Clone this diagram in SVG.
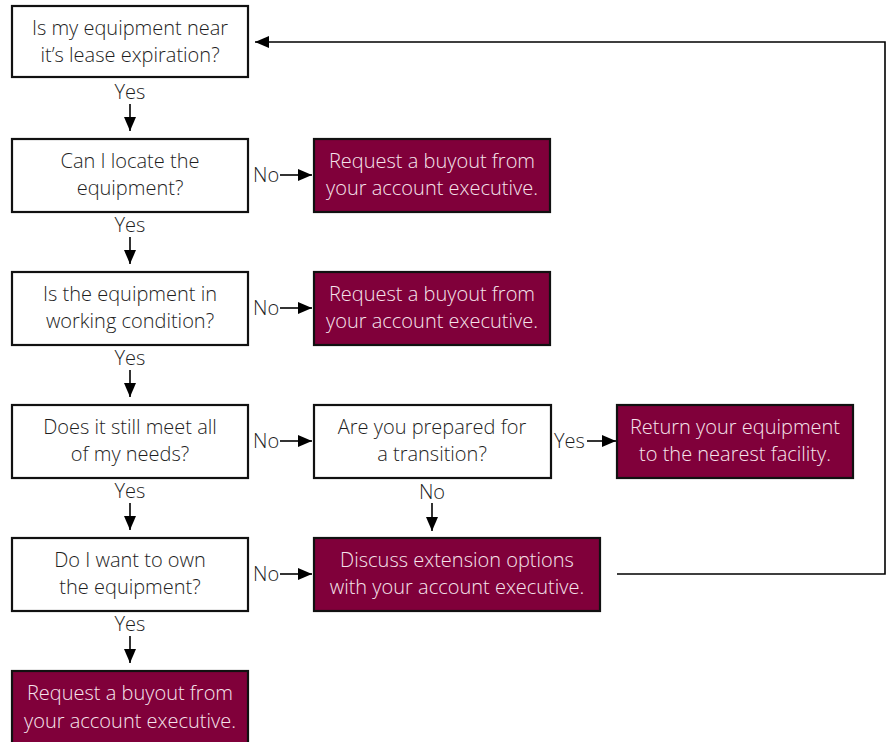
<svg xmlns="http://www.w3.org/2000/svg" width="892" height="742" viewBox="0 0 892 742">
<defs>
<marker id="ahl" viewBox="0 0 14 12" refX="14" refY="6" markerWidth="14" markerHeight="12" markerUnits="userSpaceOnUse" orient="auto">
<path d="M0,0 L14,6 L0,12 z" fill="#000"/>
</marker>
</defs>
<style>
.q{fill:#fff;stroke:#111;stroke-width:2.2}
.a{fill:#80003a;stroke:#111;stroke-width:2.2}
text{font-family:"Open Sans","Segoe UI","Noto Sans",sans-serif;font-size:20px;font-weight:300}
.tq{fill:#1e1e1e;text-anchor:middle}
.ta{fill:#f6e4ec;text-anchor:middle}
.lb{fill:#1e1e1e}
.lc{fill:#1e1e1e;text-anchor:middle}
.c{fill:none;stroke:#000;stroke-width:1.6}
</style>
<rect width="892" height="742" fill="#fff"/>
<g id="connectors">
<line class="c" x1="130" y1="104" x2="130" y2="131" marker-end="url(#ahl)"/>
<line class="c" x1="130" y1="237" x2="130" y2="264" marker-end="url(#ahl)"/>
<line class="c" x1="130" y1="370" x2="130" y2="397" marker-end="url(#ahl)"/>
<line class="c" x1="130" y1="503" x2="130" y2="530" marker-end="url(#ahl)"/>
<line class="c" x1="130" y1="636" x2="130" y2="663" marker-end="url(#ahl)"/>
<line class="c" x1="432" y1="503" x2="432" y2="531" marker-end="url(#ahl)"/>
<line class="c" x1="280" y1="175" x2="312" y2="175" marker-end="url(#ahl)"/>
<line class="c" x1="280" y1="308" x2="312" y2="308" marker-end="url(#ahl)"/>
<line class="c" x1="280" y1="441" x2="312" y2="441" marker-end="url(#ahl)"/>
<line class="c" x1="280" y1="574" x2="312" y2="574" marker-end="url(#ahl)"/>
<line class="c" x1="587" y1="441" x2="616" y2="441" marker-end="url(#ahl)"/>
<polyline class="c" points="617,574 885,574 885,42 255,42" marker-end="url(#ahl)"/>
<text class="lc" x="130" y="99">Yes</text>
<text class="lc" x="130" y="232">Yes</text>
<text class="lc" x="130" y="365">Yes</text>
<text class="lc" x="130" y="498">Yes</text>
<text class="lc" x="130" y="631">Yes</text>
<text class="lc" x="432" y="499">No</text>
<text class="lb" x="253" y="182">No</text>
<text class="lb" x="253" y="315">No</text>
<text class="lb" x="253" y="448">No</text>
<text class="lb" x="253" y="581">No</text>
<text class="lb" x="554" y="448">Yes</text>
</g>
<g id="n1"><rect class="q" x="12" y="6" width="236" height="71"/><text class="tq" x="130" y="35">Is my equipment near</text><text class="tq" x="130" y="62">it’s lease expiration?</text></g>
<g id="n2"><rect class="q" x="12" y="139" width="236" height="73"/><text class="tq" x="130" y="168">Can I locate the</text><text class="tq" x="130" y="195">equipment?</text></g>
<g id="n3"><rect class="q" x="12" y="272" width="236" height="73"/><text class="tq" x="130" y="301">Is the equipment in</text><text class="tq" x="130" y="328">working condition?</text></g>
<g id="n4"><rect class="q" x="12" y="405" width="236" height="73"/><text class="tq" x="130" y="434">Does it still meet all</text><text class="tq" x="130" y="461">of my needs?</text></g>
<g id="n5"><rect class="q" x="12" y="538" width="236" height="73"/><text class="tq" x="130" y="567">Do I want to own</text><text class="tq" x="130" y="594">the equipment?</text></g>
<g id="n6"><rect class="a" x="12" y="671" width="236" height="74"/><text class="ta" x="130" y="700">Request a buyout from</text><text class="ta" x="130" y="728">your account executive.</text></g>
<g id="r1"><rect class="a" x="314" y="139" width="236" height="73"/><text class="ta" x="432" y="168">Request a buyout from</text><text class="ta" x="432" y="195">your account executive.</text></g>
<g id="r2"><rect class="a" x="314" y="272" width="236" height="73"/><text class="ta" x="432" y="301">Request a buyout from</text><text class="ta" x="432" y="328">your account executive.</text></g>
<g id="n7"><rect class="q" x="314" y="405" width="237" height="73"/><text class="tq" x="432" y="434">Are you prepared for</text><text class="tq" x="432" y="461">a transition?</text></g>
<g id="r3"><rect class="a" x="617" y="405" width="236" height="73"/><text class="ta" x="735" y="434">Return your equipment</text><text class="ta" x="735" y="461">to the nearest facility.</text></g>
<g id="r4"><rect class="a" x="314" y="538" width="286" height="73"/><text class="ta" x="457" y="567">Discuss extension options</text><text class="ta" x="457" y="594">with your account executive.</text></g>
</svg>
